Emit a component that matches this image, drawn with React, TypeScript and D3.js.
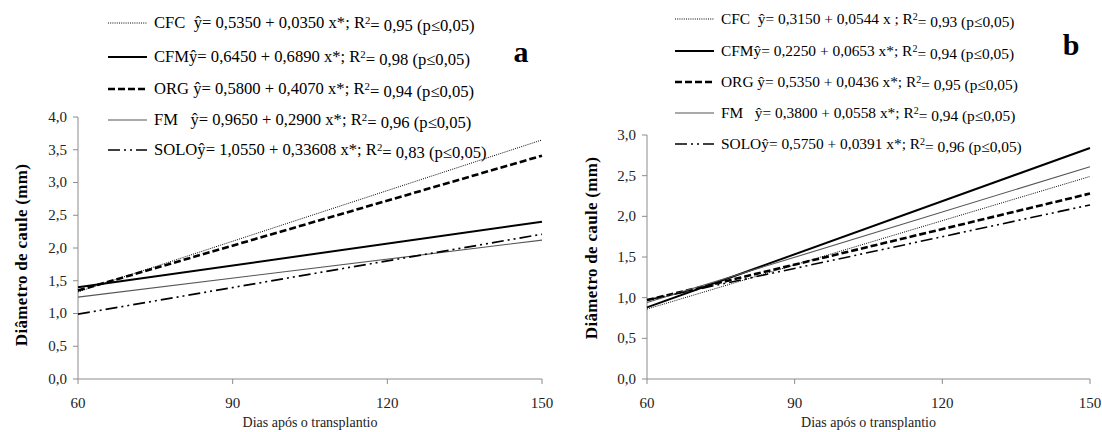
import React from "react";
import * as d3 from "d3";

const days = [60, 150];
const xTicks = [60, 90, 120, 150];
const yTicksA = [0, 0.5, 1, 1.5, 2, 2.5, 3, 3.5, 4];
const yTicksB = [0, 0.5, 1, 1.5, 2, 2.5, 3];
const seriesNames = ["CFC", "CFM", "ORG", "FM", "SOLO"];

// panel a values at 60 and 150 days
const cfcA = [1.33, 3.65];
const cfmA = [1.4, 2.4];
const orgA = [1.35, 3.41];
const fmA = [1.25, 2.12];
const soloA = [0.99, 2.21];

// panel b values at 60 and 150 days
const cfcB = [0.86, 2.49];
const cfmB = [0.88, 2.84];
const orgB = [0.97, 2.28];
const fmB = [0.94, 2.61];
const soloB = [0.97, 2.14];

const eqA = [
  ["CFC  ŷ= 0,5350 + 0,0350 x*; R", "= 0,95 (p≤0,05)"],
  ["CFMŷ= 0,6450 + 0,6890 x*; R", "= 0,98 (p≤0,05)"],
  ["ORG ŷ= 0,5800 + 0,4070 x*; R", "= 0,94 (p≤0,05)"],
  ["FM   ŷ= 0,9650 + 0,2900 x*; R", "= 0,96 (p≤0,05)"],
  ["SOLOŷ= 1,0550 + 0,33608 x*; R", "= 0,83 (p≤0,05)"],
];
const eqB = [
  ["CFC  ŷ= 0,3150 + 0,0544 x ; R", "= 0,93 (p≤0,05)"],
  ["CFMŷ= 0,2250 + 0,0653 x*; R", "= 0,94 (p≤0,05)"],
  ["ORG ŷ= 0,5350 + 0,0436 x*; R", "= 0,95 (p≤0,05)"],
  ["FM   ŷ= 0,3800 + 0,0558 x*; R", "= 0,94 (p≤0,05)"],
  ["SOLOŷ= 0,5750 + 0,0391 x*; R", "= 0,96 (p≤0,05)"],
];

const styles: Record<string, { stroke: string; width: number; dash?: string }> = {
  CFC: { stroke: "#000", width: 1, dash: "1,1.2" },
  CFM: { stroke: "#000", width: 2 },
  ORG: { stroke: "#000", width: 2.6, dash: "7,3" },
  FM: { stroke: "#555", width: 1.1 },
  SOLO: { stroke: "#000", width: 1.6, dash: "12,4,2,4,2,4" },
};

const FONT = "Liberation Serif, Times New Roman, serif";

type PanelProps = {
  x0: number;
  x1: number;
  yTop: number;
  yMax: number;
  yTicks: number[];
  values: number[][];
  eqs: string[][];
  legendX: number;
  legendRows: number[];
  legendFont: number;
  letter: string;
  letterX: number;
  letterY: number;
  titleX: number;
  titleY: number;
};

function Panel(p: PanelProps) {
  const yBase = 379;
  const x = d3.scaleLinear().domain([60, 150]).range([p.x0, p.x1]);
  const y = d3.scaleLinear().domain([0, p.yMax]).range([yBase, p.yTop]);
  const line = d3
    .line<number>()
    .x((_, i) => x(days[i]))
    .y((v) => y(v));
  const fmt = (v: number) => d3.format(".1f")(v).replace(".", ",");
  return (
    <g>
      <line x1={p.x0} x2={p.x0} y1={y(p.yMax)} y2={yBase} stroke="#8c8c8c" strokeWidth={1} />
      <line x1={p.x0} x2={p.x1} y1={yBase} y2={yBase} stroke="#8c8c8c" strokeWidth={1} />
      {p.yTicks.map((t) => (
        <g key={"y" + t}>
          <line x1={p.x0 - 5} x2={p.x0} y1={y(t)} y2={y(t)} stroke="#8c8c8c" />
          <text x={p.x0 - 11} y={y(t)} dy="0.33em" textAnchor="end" fontSize={15} fill="#222" style={{ fontFamily: FONT }}>
            {fmt(t)}
          </text>
        </g>
      ))}
      {xTicks.map((t) => (
        <g key={"x" + t}>
          <line x1={x(t)} x2={x(t)} y1={yBase} y2={yBase + 5} stroke="#8c8c8c" />
          <text x={x(t)} y={yBase + 29} textAnchor="middle" fontSize={15} fill="#222" style={{ fontFamily: FONT }}>
            {t}
          </text>
        </g>
      ))}
      <text x={(p.x0 + p.x1) / 2} y={yBase + 48} textAnchor="middle" fontSize={14} fill="#222" style={{ fontFamily: FONT }}>
        Dias após o transplantio
      </text>
      <text
        transform={`translate(${p.titleX},${p.titleY}) rotate(-90)`}
        textAnchor="middle"
        dy="0.35em"
        fontSize={17}
        fontWeight="bold"
        fill="#000"
        style={{ fontFamily: FONT, letterSpacing: "0.3px" }}
      >
        Diâmetro de caule (mm)
      </text>
      {seriesNames.map((n, i) => {
        const s = styles[n];
        return (
          <path
            key={n}
            d={line(p.values[i]) || ""}
            fill="none"
            stroke={s.stroke}
            strokeWidth={s.width}
            strokeDasharray={s.dash}
          />
        );
      })}
      {seriesNames.map((n, i) => {
        const s = styles[n];
        const ly = p.legendRows[i];
        return (
          <g key={"lg" + n}>
            <line
              x1={p.legendX}
              x2={p.legendX + 39}
              y1={ly}
              y2={ly}
              stroke={s.stroke}
              strokeWidth={s.width}
              strokeDasharray={s.dash}
            />
            <text
              x={p.legendX + 46}
              y={ly}
              dy="0.33em"
              fontSize={p.legendFont}
              fill="#000"
              style={{ whiteSpace: "pre", fontFamily: FONT }}
            >
              {p.eqs[i][0]}
              <tspan dy="-0.45em" fontSize={p.legendFont * 0.65}>2</tspan>
              <tspan dy="0.45em">{p.eqs[i][1]}</tspan>
            </text>
          </g>
        );
      })}
      <text x={p.letterX} y={p.letterY} textAnchor="middle" fontSize={30} fontWeight="bold" style={{ fontFamily: FONT }}>
        {p.letter}
      </text>
    </g>
  );
}

export default function App() {
  return (
    <svg
      width={1102}
      height={432}
      style={{ position: "absolute", left: 0, top: 0, background: "#fff", fontFamily: FONT }}
    >
      <rect width={1102} height={432} fill="#fff" />
      <Panel
        x0={78}
        x1={542}
        yTop={117}
        yMax={4}
        yTicks={yTicksA}
        values={[cfcA, cfmA, orgA, fmA, soloA]}
        eqs={eqA}
        legendX={108}
        legendRows={[23, 57, 89, 120, 150]}
        legendFont={16.6}
        letter="a"
        letterX={521}
        letterY={62}
        titleX={21}
        titleY={255}
      />
      <Panel
        x0={647}
        x1={1090}
        yTop={135}
        yMax={3}
        yTicks={yTicksB}
        values={[cfcB, cfmB, orgB, fmB, soloB]}
        eqs={eqB}
        legendX={675}
        legendRows={[19, 51, 82, 113, 144]}
        legendFont={15.4}
        letter="b"
        letterX={1071}
        letterY={55}
        titleX={591}
        titleY={248}
      />
    </svg>
  );
}
